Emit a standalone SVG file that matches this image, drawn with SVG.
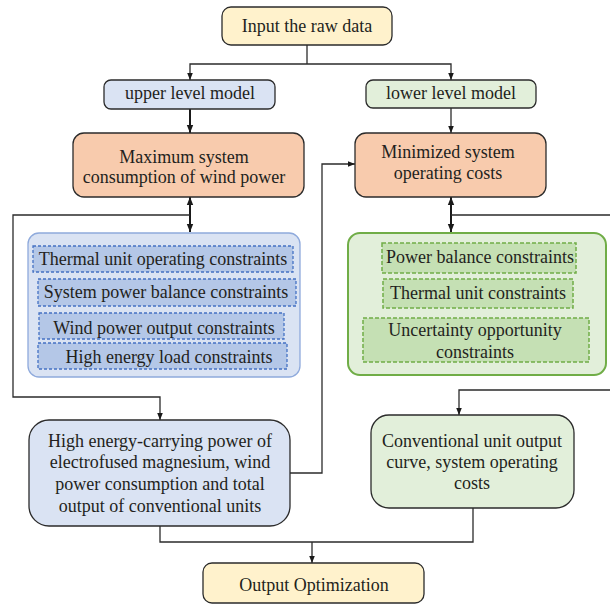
<svg xmlns="http://www.w3.org/2000/svg" width="610" height="605" viewBox="0 0 610 605">
<defs>
<style>
text{font-family:"Liberation Serif","Times New Roman",serif;font-size:18px;fill:#231f20;text-anchor:middle}
.box{stroke:#2b2b2b;stroke-width:1.3}
.yel{fill:#fff2cc}
.blu{fill:#dae3f3}
.grn{fill:#e2efda}
.org{fill:#f8cbad}
.bdash{fill:#b4c7e7;stroke:#4472c4;stroke-width:1.3;stroke-dasharray:3 2}
.gdash{fill:#c5e0b4;stroke:#70ad47;stroke-width:1.5;stroke-dasharray:4 2}
.ln{fill:none;stroke:#2b2b2b;stroke-width:1.3}
.thk{fill:none;stroke:#1a1a1a;stroke-width:2}
</style>
<marker id="ah" viewBox="0 0 10 10" refX="10" refY="5" markerWidth="7" markerHeight="7" markerUnits="userSpaceOnUse" orient="auto-start-reverse">
<path d="M0,1 L10,5 L0,9 Z" fill="#1a1a1a"/>
</marker>
<marker id="ahb" viewBox="0 0 10 10" refX="10" refY="5" markerWidth="8" markerHeight="8" markerUnits="userSpaceOnUse" orient="auto-start-reverse">
<path d="M0,1 L10,5 L0,9 Z" fill="#1a1a1a"/>
</marker>
</defs>
<rect width="610" height="605" fill="#ffffff"/>

<g id="connectors">
<path class="ln" d="M307,45 V64"/>
<path class="ln" d="M190,80 V64 H451 V80" marker-start="url(#ah)" marker-end="url(#ah)"/>
<path class="thk" d="M190,109 V133" marker-end="url(#ahb)"/>
<path class="ln" d="M451,108 V133" marker-end="url(#ah)"/>
<path class="thk" d="M190,197 V232" marker-start="url(#ahb)" marker-end="url(#ahb)"/>
<path class="ln" d="M190,215 H13 V397 H160 V420" marker-end="url(#ah)"/>
<path class="thk" d="M451,197 V232" marker-start="url(#ahb)" marker-end="url(#ahb)"/>
<path class="ln" d="M451,215 H613 V390 H459 V415" marker-end="url(#ah)"/>
<path class="ln" d="M290,473 H322 V164 H355" marker-end="url(#ah)"/>
<path class="ln" d="M160,526 V542 H473 V508"/>
<path class="ln" d="M312,542 V563" marker-end="url(#ah)"/>
</g>

<g id="input">
<rect class="box yel" x="222" y="7" width="170" height="38" rx="9"/>
<text x="307" y="32">Input the raw data</text>
</g>

<g id="upper">
<rect class="box blu" x="104" y="80" width="171" height="29" rx="7"/>
<text x="190" y="99">upper level model</text>
</g>

<g id="lower">
<rect class="box grn" x="366" y="80" width="170" height="28" rx="7"/>
<text x="451" y="99">lower level model</text>
</g>

<g id="maxwind">
<rect class="box org" x="73" y="133" width="231" height="64" rx="11"/>
<text x="184" y="163">Maximum system</text>
<text x="184" y="183">consumption of wind power</text>
</g>

<g id="mincost">
<rect class="box org" x="355" y="133" width="191" height="64" rx="11"/>
<text x="448" y="158">Minimized system</text>
<text x="448" y="179">operating costs</text>
</g>

<g id="upperconstraints">
<rect x="28" y="233" width="272" height="144" rx="11" fill="#dae3f3" stroke="#8faadc" stroke-width="1.3"/>
<rect class="bdash" x="33" y="246" width="260" height="26"/>
<text x="163" y="265">Thermal unit operating constraints</text>
<rect class="bdash" x="38" y="279" width="258" height="27"/>
<text x="166" y="298">System power balance constraints</text>
<rect class="bdash" x="39" y="313" width="245" height="26"/>
<text x="164" y="334">Wind power output constraints</text>
<rect class="bdash" x="38" y="343" width="249" height="26"/>
<text x="169" y="363">High energy load constraints</text>
</g>

<g id="lowerconstraints">
<rect x="348" y="233" width="258" height="142" rx="12" fill="#e2efda" stroke="#70ad47" stroke-width="2"/>
<rect class="gdash" x="382" y="243" width="194" height="30"/>
<text x="480" y="263">Power balance constraints</text>
<rect class="gdash" x="383" y="279" width="190" height="29"/>
<text x="478" y="299">Thermal unit constraints</text>
<rect class="gdash" x="363" y="318" width="226" height="44"/>
<text x="475" y="336">Uncertainty opportunity</text>
<text x="475" y="358">constraints</text>
</g>

<g id="highenergy">
<rect class="box blu" x="29" y="420" width="261" height="106" rx="20"/>
<text x="160" y="447">High energy-carrying power of</text>
<text x="160" y="468">electrofused magnesium, wind</text>
<text x="160" y="490">power consumption and total</text>
<text x="160" y="512">output of conventional units</text>
</g>

<g id="conventional">
<rect class="box grn" x="371" y="415" width="203" height="93" rx="18"/>
<text x="472" y="447">Conventional unit output</text>
<text x="472" y="468">curve, system operating</text>
<text x="472" y="489">costs</text>
</g>

<g id="output">
<rect class="box yel" x="203" y="563" width="221" height="40" rx="9"/>
<text x="314" y="591">Output Optimization</text>
</g>
</svg>
